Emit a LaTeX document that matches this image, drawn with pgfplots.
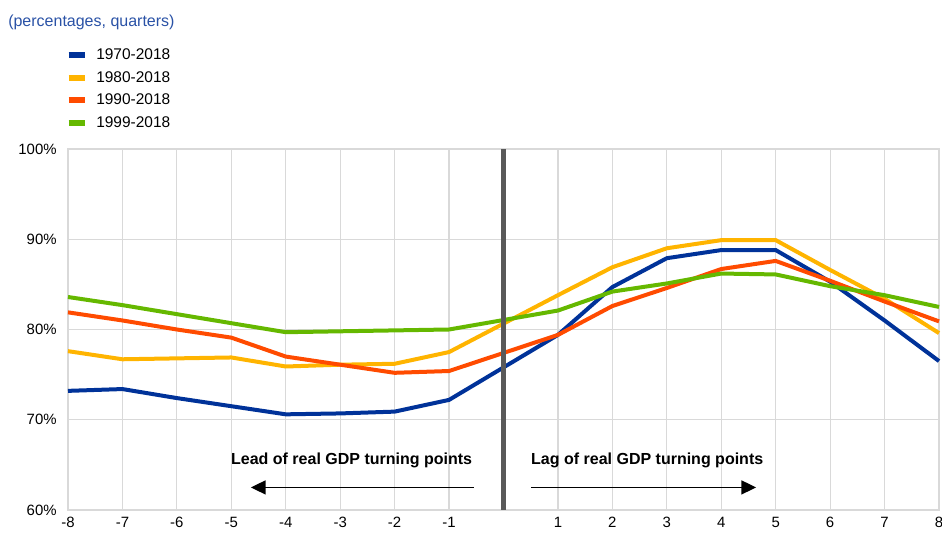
\documentclass[border=0pt]{standalone}
\usepackage{fontspec}
\setmainfont{Liberation Sans}
\usepackage{pgfplots}
\pgfplotsset{compat=1.18}
\usetikzlibrary{arrows.meta}
\definecolor{ecbblue}{HTML}{003299}
\definecolor{ecbyellow}{HTML}{FFB400}
\definecolor{ecbred}{HTML}{FF4B00}
\definecolor{ecbgreen}{HTML}{65B800}
\definecolor{titleblue}{HTML}{2A52A6}
\definecolor{gridgray}{HTML}{D9D9D9}
\definecolor{zerogray}{HTML}{595959}

\begin{document}
\begin{tikzpicture}
\begin{axis}[
  width=653.25pt, height=270.75pt, scale only axis,
  xmin=-8, xmax=8, ymin=60, ymax=100,
  xtick={-8,-7,-6,-5,-4,-3,-2,-1,1,2,3,4,5,6,7,8},
  xticklabels={-8,-7,-6,-5,-4,-3,-2,-1,1,2,3,4,5,6,7,8},
  ytick={60,70,80,90,100},
  yticklabels={60\%,70\%,80\%,90\%,100\%},
  tick style={draw=none},
  grid=major,
  major grid style={gridgray, line width=0.9pt},
  axis line style={gridgray, line width=0.9pt},
  ticklabel style={font=\fontsize{11.2}{13}\selectfont, text=black},
  yticklabel style={xshift=-5pt},
  xticklabel style={yshift=-2pt},
  legend style={at={(axis description cs:0,1)}, anchor=south west,
    xshift=-2pt, yshift=12.5pt, draw=none, fill=none,
    font=\fontsize{11.6}{13}\selectfont, row sep=3.4pt, column sep=4.5pt, inner sep=0pt},
  legend cell align=left,
  legend image code/.code={\draw[#1, line width=4.5pt] (0pt,0pt) -- (12pt,0pt);},
  clip=false,
]
\addplot[ecbblue, line width=3pt] coordinates {
  (-8,73.2) (-7,73.4) (-6,72.4) (-5,71.5) (-4,70.6) (-3,70.7) (-2,70.9) (-1,72.2)
  (1,79.4) (2,84.7) (3,87.9) (4,88.8) (5,88.8) (6,85.3) (7,81.0) (8,76.5)};
\addlegendentry{1970-2018}
\addplot[ecbyellow, line width=3pt] coordinates {
  (-8,77.6) (-7,76.7) (-6,76.8) (-5,76.9) (-4,75.9) (-3,76.1) (-2,76.2) (-1,77.5)
  (1,83.8) (2,86.9) (3,89.0) (4,89.9) (5,89.9) (6,86.6) (7,83.4) (8,79.6)};
\addlegendentry{1980-2018}
\addplot[ecbred, line width=3pt] coordinates {
  (-8,81.9) (-7,81.0) (-6,80.0) (-5,79.1) (-4,77.0) (-3,76.1) (-2,75.2) (-1,75.4)
  (1,79.4) (2,82.6) (3,84.6) (4,86.7) (5,87.6) (6,85.4) (7,83.1) (8,80.9)};
\addlegendentry{1990-2018}
\addplot[ecbgreen, line width=3pt] coordinates {
  (-8,83.6) (-7,82.7) (-6,81.7) (-5,80.7) (-4,79.7) (-3,79.8) (-2,79.9) (-1,80.0)
  (1,82.1) (2,84.2) (3,85.1) (4,86.2) (5,86.1) (6,84.8) (7,83.8) (8,82.5)};
\addlegendentry{1999-2018}
\draw[zerogray, line width=3.3pt] (axis cs:0,60) -- (axis cs:0,100);
\node[font=\fontsize{12}{14}\selectfont\bfseries] at (axis cs:-2.79,65.5) {Lead of real GDP turning points};
\node[font=\fontsize{12}{14}\selectfont\bfseries] at (axis cs:2.64,65.5) {Lag of real GDP turning points};
\draw[line width=1pt, -{Triangle[length=11pt, width=10.5pt]}] (axis cs:-0.55,62.5) -- (axis cs:-4.64,62.5);
\draw[line width=1pt, -{Triangle[length=11pt, width=10.5pt]}] (axis cs:0.51,62.5) -- (axis cs:4.64,62.5);
\end{axis}
\node[anchor=west, text=titleblue, font=\fontsize{12}{14}\selectfont, inner sep=0pt] at (-45pt,366pt) {(percentages, quarters)};
\pgfresetboundingbox
\path[use as bounding box] (-51pt,-18pt) rectangle (655.5pt,382.5pt);
\end{tikzpicture}
\end{document}
